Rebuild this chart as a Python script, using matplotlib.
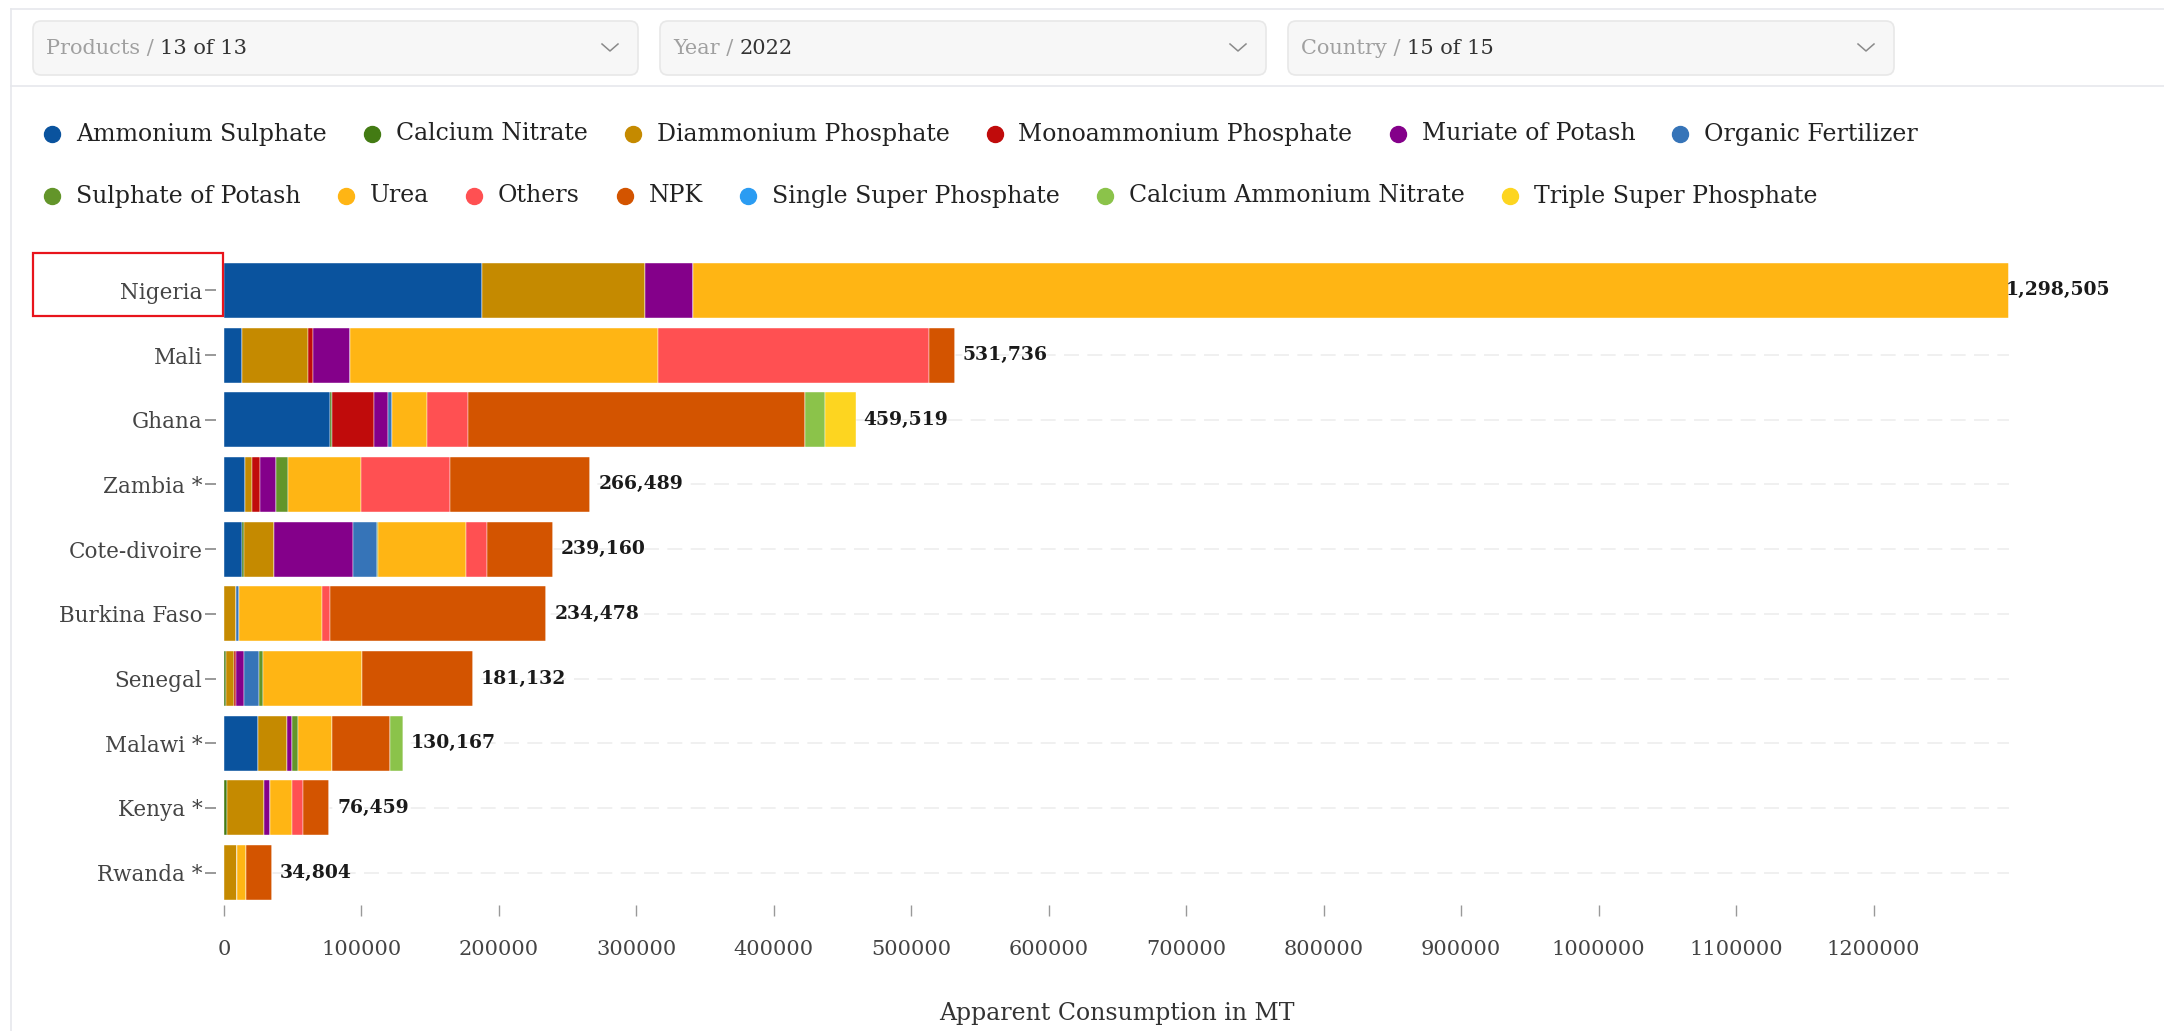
import numpy as np
import matplotlib.pyplot as plt
from matplotlib.patches import FancyBboxPatch, Rectangle
from matplotlib.lines import Line2D

plt.rcParams['font.family'] = ['DejaVu Serif']

countries = ['Nigeria', 'Mali', 'Ghana', 'Zambia *', 'Cote-divoire', 'Burkina Faso',
             'Senegal', 'Malawi *', 'Kenya *', 'Rwanda *']

products = ['Ammonium Sulphate', 'Calcium Nitrate', 'Diammonium Phosphate',
            'Monoammonium Phosphate', 'Muriate of Potash', 'Organic Fertilizer',
            'Sulphate of Potash', 'Urea', 'Others', 'NPK', 'Single Super Phosphate',
            'Calcium Ammonium Nitrate', 'Triple Super Phosphate']

colors = ['#0a539e', '#437b13', '#c58a00', '#c00b0b', '#84008a', '#3674b8',
          '#63952a', '#ffb514', '#ff5052', '#d35400', '#2b9cf2', '#8bc34a', '#fdd520']

# values per product, one entry per country (MT)
ammonium_sulphate = [187700, 13300, 76900, 15300, 13000, 0, 0, 24400, 0, 0]
calcium_nitrate = [0, 0, 1700, 0, 1600, 0, 1500, 0, 2300, 0]
diammonium_phosphate = [118500, 47600, 0, 4900, 21800, 8700, 6100, 21100, 27000, 9700]
monoammonium_phosphate = [0, 3900, 30800, 5800, 0, 0, 1200, 0, 0, 0]
muriate_of_potash = [35100, 26700, 10000, 12000, 57800, 0, 6100, 4200, 4200, 0]
organic_fertilizer = [0, 0, 2900, 0, 16900, 2000, 10200, 0, 0, 0]
sulphate_of_potash = [0, 0, 0, 8400, 600, 0, 3100, 3900, 0, 0]
urea = [957205, 224300, 25500, 53600, 64600, 60700, 72500, 24700, 16200, 6500]
others = [0, 197400, 29500, 64600, 15300, 6000, 0, 0, 7800, 0]
npk = [0, 18536, 245600, 101889, 47560, 157078, 80432, 42767, 18959, 18604]
single_super_phosphate = [0, 0, 0, 0, 0, 0, 0, 0, 0, 0]
calcium_ammonium_nitrate = [0, 0, 14600, 0, 0, 0, 0, 9100, 0, 0]
triple_super_phosphate = [0, 0, 22019, 0, 0, 0, 0, 0, 0, 0]

series = [ammonium_sulphate, calcium_nitrate, diammonium_phosphate, monoammonium_phosphate,
          muriate_of_potash, organic_fertilizer, sulphate_of_potash, urea, others, npk,
          single_super_phosphate, calcium_ammonium_nitrate, triple_super_phosphate]

xticks = np.arange(0, 1200001, 100000)

W, H = 2164, 1031
fig = plt.figure(figsize=(W / 100, H / 100), dpi=100)
fig.patch.set_facecolor('white')


def fx(px):
    return px / W


def fy(py):
    return 1 - py / H


# panel frame
fig.add_artist(Line2D([fx(11), fx(11)], [fy(9), fy(H)], color='#e6e8ec', lw=1.2))
fig.add_artist(Line2D([fx(11), 1], [fy(9), fy(9)], color='#e6e8ec', lw=1.2))
fig.add_artist(Line2D([fx(11), 1], [fy(86), fy(86)], color='#e6e8ec', lw=1.2))

# filter dropdowns
renderer = fig.canvas.get_renderer()
dropdowns = [('Products / ', '13 of 13', 33, 638), ('Year / ', '2022', 660, 1266),
             ('Country / ', '15 of 15', 1288, 1894)]
for label, value, x0, x1 in dropdowns:
    box = FancyBboxPatch((x0 / 100, (H - 75) / 100), (x1 - x0) / 100, 54 / 100,
                         boxstyle='round,pad=0,rounding_size=0.08',
                         transform=fig.dpi_scale_trans, fc='#f7f7f7', ec='#e8e8e8', lw=1.2)
    fig.add_artist(box)
    t = fig.text(fx(x0 + 13), fy(48), label, color='#a0a0a0', fontsize=15, va='center')
    bb = t.get_window_extent(renderer)
    fig.text(bb.x1 / W, fy(48), value, color='#333333', fontsize=15, va='center')
    cx = x1 - 28
    fig.add_artist(Line2D([fx(cx - 8), fx(cx), fx(cx + 8)], [fy(44), fy(51), fy(44)],
                          color='#8a8a8a', lw=1.1))

# legend, laid out as flowing rows
lx, ly = 52, 134
for name, col in zip(products, colors):
    t = fig.text(0, 0, name, fontsize=17, color='#222222', va='center')
    tw = t.get_window_extent(renderer).width
    if lx + 25 + tw > 2100:
        lx, ly = 52, ly + 62
    fig.add_artist(Line2D([fx(lx)], [fy(ly)], marker='o', ms=11.5, color=col, lw=0))
    t.set_position((fx(lx + 24), fy(ly)))
    lx += 24 + tw + 45

# chart
ax = fig.add_axes([fx(224), fy(905), fx(2009) - fx(224), fy(258) - fy(905)])
y = np.arange(len(countries))
left = np.zeros(len(countries))
for vals, col in zip(series, colors):
    vals = np.array(vals, dtype=float)
    ax.barh(y, vals, left=left, height=0.85, color=col, edgecolor='white', linewidth=0.3)
    left += vals

totals = left
xmax = totals.max()
for yi, tot in zip(y, totals):
    off = -3 if tot == xmax else 8
    ax.annotate(f'{int(round(tot)):,}', (tot, yi), xytext=(off, 0), textcoords='offset pixels',
                va='center', ha='left', fontsize=13.5, fontweight='bold', color='#1a1a1a',
                annotation_clip=False)

ax.set_xlim(0, xmax)
ax.set_ylim(len(countries) - 0.5, -0.5)
ax.set_yticks(y)
ax.set_yticklabels(countries)
ax.set_xticks(xticks)
ax.set_xticklabels([str(v) for v in xticks])
ax.grid(axis='y', color='#eeeeee', lw=1.2, linestyle=(0, (9, 5)))
ax.set_axisbelow(True)
for s in ax.spines.values():
    s.set_visible(False)
ax.spines['left'].set_position(('outward', 6))
ax.tick_params(axis='y', length=8, width=1.4, color='#999999', pad=1.5, labelsize=15.5,
               labelcolor='#444444')
ax.tick_params(axis='x', length=8, width=1, color='#999999', pad=17.5, labelsize=15,
               labelcolor='#444444')
ax.set_xlabel('Apparent Consumption in MT', fontsize=17, color='#333333', labelpad=31)

# highlight box around the first country label
fig.add_artist(Rectangle((fx(33), fy(316)), fx(223) - fx(33), fy(253) - fy(316),
                         fill=False, ec='#e8141c', lw=1.6))

fig.savefig('out.png', dpi=100)
